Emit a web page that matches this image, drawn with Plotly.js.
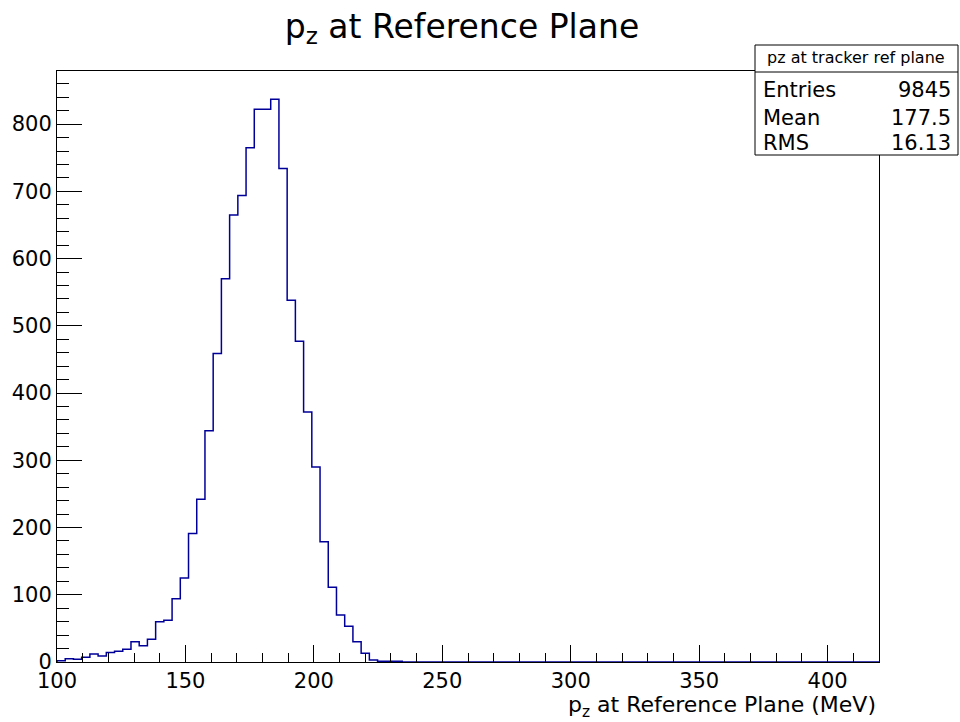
<!DOCTYPE html>
<html>
<head>
<meta charset="utf-8">
<script src="https://cdn.plot.ly/plotly-3.0.1.min.js"></script>
<style>
  html, body { margin: 0; padding: 0; background: #fff; }
  #hist { width: 960px; height: 722px; }
</style>
</head>
<body>
<div id="hist"></div>
<script>
// histogram binning (100 bins from 100 to 420 MeV)
var binLow = 100;
var binHigh = 420;
var binCounts = [
    2, 5, 4, 7, 12, 9, 14, 16, 19, 30,
    24, 34, 60, 62, 94, 125, 191, 242, 344, 459,
    570, 665, 694, 765, 822, 822, 837, 734, 538, 477,
    372, 290, 179, 111, 70, 53, 30, 13, 3, 1,
    1, 1, 0, 0, 0, 0, 0, 0, 0, 0,
    0, 0, 0, 0, 0, 0, 0, 0, 0, 0,
    0, 0, 0, 0, 0, 0, 0, 0, 0, 0,
    0, 0, 0, 0, 0, 0, 0, 0, 0, 0,
    0, 0, 0, 0, 0, 0, 0, 0, 0, 0,
    0, 0, 0, 0, 0, 0, 0, 0, 0, 0
];

// stats box
var statsTitle = 'pz at tracker ref plane';
var statsNames = ['Entries', 'Mean', 'RMS'];
var statsValues = ['9845', '177.5', '16.13'];

var plotTitle = 'p<sub>z</sub> at Reference Plane';
var xTitle = 'p<sub>z</sub> at Reference Plane (MeV)';

// step outline from bin edges
var binWidth = (binHigh - binLow) / binCounts.length;
var xs = [binLow], ys = [0];
for (var i = 0; i < binCounts.length; i++) {
    xs.push(binLow + i * binWidth);
    ys.push(binCounts[i]);
}
xs.push(binHigh);
ys.push(binCounts[binCounts.length - 1]);

var trace = {
    x: xs,
    y: ys,
    type: 'scatter',
    mode: 'lines',
    line: { shape: 'hv', color: '#000099', width: 1.5 },
    hoverinfo: 'skip'
};

// plot frame in pixels
var L = 57, R = 879, T = 71, B = 662;
function px(x) { return (x - L) / (R - L); }
function py(y) { return (B - y) / (B - T); }

var font = 'DejaVu Sans, Verdana, sans-serif';

var annotations = [
    {
        text: xTitle, xref: 'paper', yref: 'paper',
        x: px(878), y: py(706), xanchor: 'right', yanchor: 'middle',
        showarrow: false, font: { family: font, size: 22, color: '#000' }
    },
    {
        text: statsTitle, xref: 'paper', yref: 'paper',
        x: px(856), y: py(58), xanchor: 'center', yanchor: 'middle',
        showarrow: false, font: { family: font, size: 16, color: '#000' }
    }
];
var rowY = [90, 118, 143];
statsNames.forEach(function(name, k) {
    annotations.push({
        text: name, xref: 'paper', yref: 'paper',
        x: px(761), y: py(rowY[k]), xanchor: 'left', yanchor: 'middle',
        showarrow: false, font: { family: font, size: 21, color: '#000' }
    });
    annotations.push({
        text: statsValues[k], xref: 'paper', yref: 'paper',
        x: px(953), y: py(rowY[k]), xanchor: 'right', yanchor: 'middle',
        showarrow: false, font: { family: font, size: 21, color: '#000' }
    });
});

var layout = {
    width: 960,
    height: 722,
    paper_bgcolor: '#fff',
    plot_bgcolor: '#fff',
    showlegend: false,
    margin: { l: L, r: 960 - R, t: T, b: 722 - B, pad: 0 },
    font: { family: font, size: 21, color: '#000' },
    title: {
        text: plotTitle,
        font: { family: font, size: 33, color: '#000' },
        xref: 'paper', x: px(462), xanchor: 'center',
        yref: 'container', y: 1 - 26 / 722, yanchor: 'middle'
    },
    xaxis: {
        range: [binLow, binHigh],
        dtick: 50,
        tick0: 100,
        ticks: 'inside',
        ticklen: 17,
        tickcolor: '#000',
        tickwidth: 1,
        minor: { ticks: 'inside', dtick: 10, ticklen: 9, tickcolor: '#000', tickwidth: 1 },
        showgrid: false,
        zeroline: false,
        showline: true,
        linecolor: '#000',
        linewidth: 1,
        mirror: true,
        tickfont: { family: font, size: 21, color: '#000' }
    },
    yaxis: {
        range: [0, 879],
        dtick: 100,
        ticks: 'inside',
        ticklen: 25,
        tickcolor: '#000',
        tickwidth: 1,
        minor: { ticks: 'inside', dtick: 20, ticklen: 12, tickcolor: '#000', tickwidth: 1 },
        showgrid: false,
        zeroline: false,
        showline: true,
        linecolor: '#000',
        linewidth: 1,
        mirror: true,
        tickfont: { family: font, size: 21, color: '#000' }
    },
    shapes: [
        {
            type: 'rect', xref: 'paper', yref: 'paper',
            x0: px(755), x1: px(958), y0: py(155), y1: py(45),
            line: { color: '#000', width: 1 }, fillcolor: '#fff', layer: 'above'
        },
        {
            type: 'line', xref: 'paper', yref: 'paper',
            x0: px(755), x1: px(958), y0: py(72), y1: py(72),
            line: { color: '#000', width: 1 }, layer: 'above'
        }
    ],
    annotations: annotations
};

Plotly.newPlot('hist', [trace], layout, { displayModeBar: false, staticPlot: true });
</script>
</body>
</html>
